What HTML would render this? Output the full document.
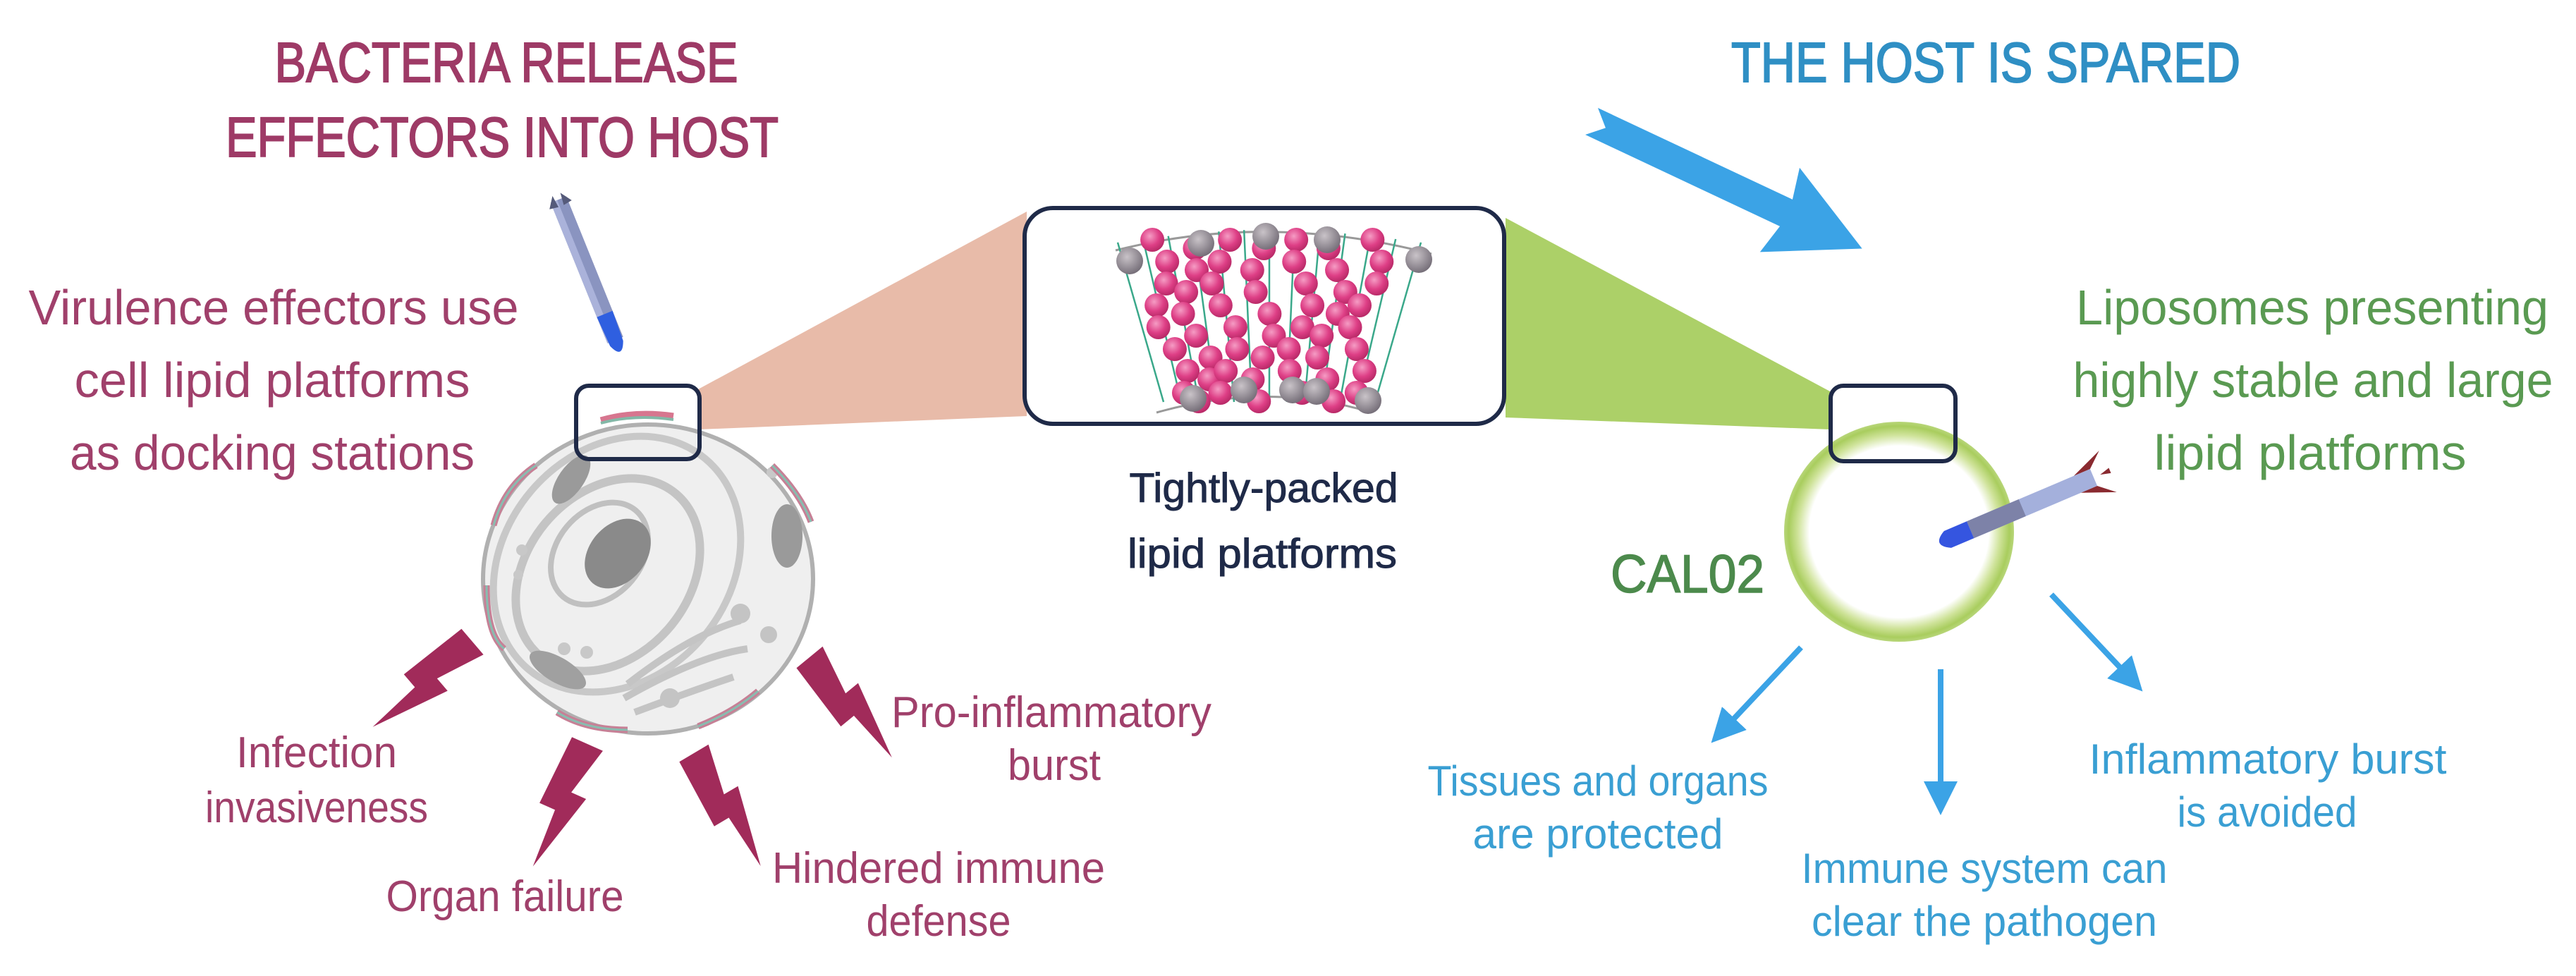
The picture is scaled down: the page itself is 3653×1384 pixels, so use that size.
<!DOCTYPE html>
<html><head><meta charset="utf-8">
<style>
html,body{margin:0;padding:0;background:#fff;}
svg{display:block;}
text{font-family:"Liberation Sans",sans-serif;}
</style></head>
<body>
<svg xmlns="http://www.w3.org/2000/svg" width="3653" height="1384" viewBox="0 0 3653 1384">
<defs>
  <radialGradient id="ring" cx="50%" cy="50%" r="50%">
    <stop offset="0.78" stop-color="#ffffff"/>
    <stop offset="0.88" stop-color="#cfe39a"/>
    <stop offset="0.96" stop-color="#a9cd5e"/>
    <stop offset="1" stop-color="#b8d67a"/>
  </radialGradient>
  <radialGradient id="bead" cx="40%" cy="35%" r="65%">
    <stop offset="0" stop-color="#f59cc4"/>
    <stop offset="0.6" stop-color="#de3f86"/>
    <stop offset="1" stop-color="#b92a68"/>
  </radialGradient>
  <radialGradient id="head" cx="40%" cy="35%" r="65%">
    <stop offset="0" stop-color="#c9c3c8"/>
    <stop offset="1" stop-color="#77707a"/>
  </radialGradient>
  <marker id="ah" markerWidth="6" markerHeight="6" refX="3" refY="3" orient="auto" markerUnits="strokeWidth">
    <path d="M0,0 L6,3 L0,6 Z" fill="#3ba3e6"/>
  </marker>
</defs>

<!-- wedges -->
<polygon points="990,552 1456,300 1456,590 990,609" fill="#e8bba9"/>
<polygon points="2135,309 2597,556 2597,609 2135,592" fill="#acd068"/>

<!-- Titles -->
<g stroke-width="2">
<text x="718" y="116" font-size="80" fill="#9e3a66" stroke="#9e3a66" text-anchor="middle" textLength="657" lengthAdjust="spacingAndGlyphs">BACTERIA RELEASE</text>
<text x="712" y="222" font-size="80" fill="#9e3a66" stroke="#9e3a66" text-anchor="middle" textLength="784" lengthAdjust="spacingAndGlyphs">EFFECTORS INTO HOST</text>
<text x="2816" y="116" font-size="80" fill="#2f8fc4" stroke="#2f8fc4" text-anchor="middle" textLength="722" lengthAdjust="spacingAndGlyphs">THE HOST IS SPARED</text>
</g>

<!-- left paragraph -->
<g font-size="70" fill="#a0406b" text-anchor="middle">
<text x="388" y="460" textLength="695" lengthAdjust="spacingAndGlyphs">Virulence effectors use</text>
<text x="386" y="563" textLength="561" lengthAdjust="spacingAndGlyphs">cell lipid platforms</text>
<text x="386" y="666" textLength="574" lengthAdjust="spacingAndGlyphs">as docking stations</text>
</g>

<!-- syringe left -->
<g transform="translate(792,283) rotate(-22)">
  <rect x="-12" y="0" width="24" height="215" fill="#8a94c0"/>
  <rect x="-12" y="0" width="10" height="215" fill="#aab2da"/>
  <path d="M-12,175 L12,175 L10,220 Q0,245 -10,220 Z" fill="#2f5fe0"/>
  <path d="M-17,8 L-6,-8 L-4,10 Z M17,8 L6,-8 L4,10 Z" fill="#555a7a"/>
</g>

<!-- cell -->
<g>
  <ellipse cx="919" cy="821" rx="234" ry="219" fill="#efefef" stroke="#b0b0b0" stroke-width="6"/>
  <ellipse cx="862" cy="815" rx="115" ry="150" transform="rotate(40 862 815)" fill="none" stroke="#c4c4c4" stroke-width="12"/>
  <ellipse cx="875" cy="800" rx="160" ry="195" transform="rotate(40 875 800)" fill="none" stroke="#c8c8c8" stroke-width="10"/>
  <ellipse cx="850" cy="785" rx="60" ry="80" transform="rotate(40 850 785)" fill="none" stroke="#c0c0c0" stroke-width="8"/>
  <ellipse cx="876" cy="785" rx="40" ry="55" transform="rotate(40 876 785)" fill="#8a8a8a"/>
  <ellipse cx="810" cy="680" rx="18" ry="40" transform="rotate(35 810 680)" fill="#9a9a9a"/>
  <ellipse cx="1116" cy="760" rx="22" ry="45" fill="#9a9a9a"/>
  <ellipse cx="791" cy="950" rx="45" ry="18" transform="rotate(30 791 950)" fill="#a0a0a0"/>
  <path d="M890,970 Q980,900 1050,880 M885,990 Q990,930 1060,920 M900,1010 Q980,980 1040,960" stroke="#c4c4c4" stroke-width="10" fill="none"/>
  <circle cx="1050" cy="870" r="14" fill="#c4c4c4"/><circle cx="1090" cy="900" r="12" fill="#c4c4c4"/>
  <circle cx="950" cy="990" r="14" fill="#c4c4c4"/><circle cx="1095" cy="670" r="8" fill="#c8c8c8"/>
  <circle cx="740" cy="780" r="8" fill="#c8c8c8"/><circle cx="735" cy="815" r="7" fill="#c8c8c8"/>
  <circle cx="800" cy="920" r="9" fill="#c8c8c8"/><circle cx="832" cy="925" r="9" fill="#c8c8c8"/>
  <g fill="none" stroke-width="9">
    <path d="M852,596 Q900,582 955,590" stroke="#d7768f"/>
    <path d="M852,600 Q900,587 955,595" stroke="#83b8a7" stroke-width="4"/>
    <path d="M700,745 Q715,690 760,660" stroke="#c78096"/>
    <path d="M1095,660 Q1135,700 1150,740" stroke="#c78096"/>
    <path d="M690,830 Q690,900 715,920" stroke="#c78096"/>
    <path d="M790,1010 Q830,1035 890,1035" stroke="#c78096"/>
    <path d="M990,1030 Q1040,1010 1075,980" stroke="#c78096"/>
    <path d="M700,745 Q715,690 760,660 M1095,660 Q1135,700 1150,740 M690,830 Q690,900 715,920 M790,1010 Q830,1035 890,1035 M990,1030 Q1040,1010 1075,980" stroke="#88bdb0" stroke-width="3"/>
  </g>
</g>
<rect x="817" y="547" width="175" height="104" rx="18" fill="none" stroke="#1f2a48" stroke-width="6"/>

<!-- lightning bolts -->
<g fill="#a12b5a">
  <path transform="translate(670,910) rotate(49.5)" d="M-24,0 L24,0 L7,72 L30,72 L0,186 L-4,104 L-28,104 Z"/>
  <path transform="translate(833,1055) rotate(24)" d="M-24,0 L24,0 L7,72 L30,72 L0,190 L-4,104 L-28,104 Z"/>
  <path transform="translate(984,1068) rotate(-30.6)" d="M-24,0 L24,0 L7,72 L30,72 L0,186 L-4,104 L-28,104 Z"/>
  <path transform="translate(1148,932) rotate(-39.4)" d="M-24,0 L24,0 L7,72 L30,72 L0,184 L-4,104 L-28,104 Z"/>
</g>

<!-- left labels -->
<g font-size="62" fill="#a0406b" text-anchor="middle">
<text x="449" y="1088" textLength="228" lengthAdjust="spacingAndGlyphs">Infection</text>
<text x="449" y="1166" textLength="316" lengthAdjust="spacingAndGlyphs">invasiveness</text>
<text x="716" y="1292" textLength="337" lengthAdjust="spacingAndGlyphs">Organ failure</text>
<text x="1331" y="1252" textLength="472" lengthAdjust="spacingAndGlyphs">Hindered immune</text>
<text x="1331" y="1327" textLength="205" lengthAdjust="spacingAndGlyphs">defense</text>
<text x="1491" y="1031" textLength="454" lengthAdjust="spacingAndGlyphs">Pro-inflammatory</text>
<text x="1495" y="1106" textLength="132" lengthAdjust="spacingAndGlyphs">burst</text>
</g>

<!-- big box -->
<rect x="1453" y="295" width="680" height="306" rx="40" fill="#fff" stroke="#1f2a48" stroke-width="6"/>
<g id="lipid"></g>
<g font-size="58" fill="#1f2a48" text-anchor="middle" stroke="#1f2a48" stroke-width="1">
<text x="1792" y="712" textLength="381" lengthAdjust="spacingAndGlyphs">Tightly-packed</text>
<text x="1790" y="805" textLength="382" lengthAdjust="spacingAndGlyphs">lipid platforms</text>
</g>

<!-- big blue arrow -->
<path transform="translate(2257,172) rotate(25.2)" d="M0,-21 L305,-21 L295,-66 L424,0 L295,66 L305,21 L0,21 L22,0 Z" fill="#3ba3e6"/>

<!-- liposome -->
<ellipse cx="2693" cy="754" rx="163" ry="156" fill="url(#ring)"/>
<rect x="2596" y="547" width="177" height="107" rx="18" fill="none" stroke="#1f2a48" stroke-width="6"/>

<!-- missile right -->
<g transform="translate(2969,677) rotate(157)">
  <rect x="0" y="-13" width="190" height="26" fill="#a4b0dc"/>
  <rect x="110" y="-13" width="80" height="26" fill="#7d82a8"/>
  <path d="M190,-13 L225,-13 Q250,0 225,13 L190,13 Z" fill="#3555e0"/>
  <path d="M0,-13 L-22,-32 L25,-13 Z M0,13 L-22,32 L25,13 Z M-10,0 L-25,-4 L-25,4 Z" fill="#8a2a30"/>
</g>

<!-- right texts -->
<g font-size="70" fill="#5a9a52" text-anchor="middle">
<text x="3279" y="460" textLength="670" lengthAdjust="spacingAndGlyphs">Liposomes presenting</text>
<text x="3280" y="563" textLength="681" lengthAdjust="spacingAndGlyphs">highly stable and large</text>
<text x="3276" y="666" textLength="443" lengthAdjust="spacingAndGlyphs">lipid platforms</text>
</g>
<text x="2393" y="840" font-size="76" fill="#4c8a4c" stroke="#4c8a4c" stroke-width="1.5" text-anchor="middle" textLength="218" lengthAdjust="spacingAndGlyphs">CAL02</text>

<!-- thin blue arrows -->
<g stroke="#3ba3e6" stroke-width="8" fill="none" marker-end="url(#ah)">
  <line x1="2554" y1="918" x2="2443" y2="1036"/>
  <line x1="2752" y1="949" x2="2752" y2="1132"/>
  <line x1="2909" y1="843" x2="3022" y2="963"/>
</g>

<g font-size="60" fill="#3a9fd3" text-anchor="middle">
<text x="2266" y="1128" textLength="483" lengthAdjust="spacingAndGlyphs">Tissues and organs</text>
<text x="2266" y="1203" textLength="355" lengthAdjust="spacingAndGlyphs">are protected</text>
<text x="2814" y="1252" textLength="519" lengthAdjust="spacingAndGlyphs">Immune system can</text>
<text x="2814" y="1327" textLength="490" lengthAdjust="spacingAndGlyphs">clear the pathogen</text>
<text x="3216" y="1097" textLength="507" lengthAdjust="spacingAndGlyphs">Inflammatory burst</text>
<text x="3215" y="1172" textLength="255" lengthAdjust="spacingAndGlyphs">is avoided</text>
</g>
</svg>
<script>
(function(){
  var ns="http://www.w3.org/2000/svg", g=document.getElementById('lipid');
  function el(t,a){var e=document.createElementNS(ns,t);for(var k in a)e.setAttribute(k,a[k]);g.appendChild(e);return e;}
  el('path',{d:'M1582,355 Q1800,300 2030,360',stroke:'#999',fill:'none','stroke-width':3});
  el('path',{d:'M1640,585 Q1800,540 1945,585',stroke:'#999',fill:'none','stroke-width':3});
  var cx=1800, n=13;
  for(var i=0;i<n;i++){
    var t=(i/(n-1))-0.5;
    var xt=cx+t*430, yt=355-Math.cos(t*2)*30+(Math.abs(t)*10);
    var xb=cx+t*300, yb=570;
    el('line',{x1:xt,y1:yt,x2:xb,y2:yb,stroke:'#3aa88a','stroke-width':2.5});
  }
  var cols=[1635,1680,1730,1790,1850,1900,1950];
  for(var c=0;c<cols.length;c++){
    for(var k=0;k<8;k++){
      var y=340+k*31+(c%2)*12;
      var x=cols[c]+Math.sin(k*1.3+c)*16-(cols[c]-1800)*(y-345)/900;
      if(y>590) continue;
      el('circle',{cx:x,cy:y,r:17,fill:'url(#bead)'});
    }
  }
  var top=[[1602,370],[1703,345],[1795,335],[1882,340],[2012,368]];
  top.forEach(function(p){el('circle',{cx:p[0],cy:p[1],r:19,fill:'url(#head)'});});
  var bot=[[1692,565],[1764,553],[1833,553],[1867,555],[1940,568]];
  bot.forEach(function(p){el('circle',{cx:p[0],cy:p[1],r:19,fill:'url(#head)'});});
})();
</script>
</body></html>
